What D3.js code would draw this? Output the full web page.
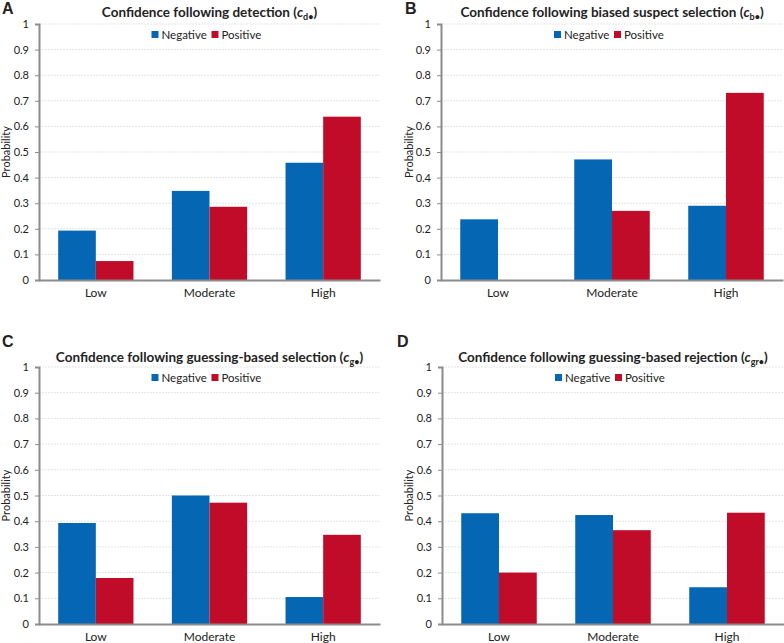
<!DOCTYPE html>
<html>
<head>
<meta charset="utf-8">
<script src="https://cdn.jsdelivr.net/npm/d3@7"></script>
<style>
  body { margin: 0; background: #fff; }
  svg text { font-family: Lato, "Open Sans", sans-serif; fill: #222; }
</style>
</head>
<body>
<div id="viz"></div>
<script>
let w = 784;
let h = 643;

// data
let categories = ["Low", "Moderate", "High"];
let seriesNames = ["Negative", "Positive"];
let yTicks = [0, 0.1, 0.2, 0.3, 0.4, 0.5, 0.6, 0.7, 0.8, 0.9, 1];

let negA = [0.193, 0.348, 0.458];
let posA = [0.074, 0.286, 0.638];
let negB = [0.237, 0.471, 0.290];
let posB = [0, 0.270, 0.731];
let negC = [0.393, 0.500, 0.105];
let posC = [0.179, 0.472, 0.347];
let negD = [0.431, 0.424, 0.143];
let posD = [0.200, 0.365, 0.433];

let colors = ["#0567b3", "#c00b29"];

let panels = [
  {letter: "A", title: "Confidence following detection (", sub: "d•", neg: negA, pos: posA,
   left: 39, right: 380, top: 24, bottom: 280, letterX: 2, letterY: 14, titleY: 17, labelX: 10},
  {letter: "B", title: "Confidence following biased suspect selection (", sub: "b•", neg: negB, pos: posB,
   left: 441, right: 783, top: 24, bottom: 280, letterX: 405, letterY: 14, titleY: 17, labelX: 413},
  {letter: "C", title: "Confidence following guessing-based selection (", sub: "g•", neg: negC, pos: posC,
   left: 39, right: 380, top: 367, bottom: 624, letterX: 2, letterY: 347, titleY: 362, labelX: 10},
  {letter: "D", title: "Confidence following guessing-based rejection (", sub: "gr•", neg: negD, pos: posD,
   left: 442, right: 784, top: 367, bottom: 624, letterX: 397, letterY: 347, titleY: 362, labelX: 413}
];

let viz = d3.select("#viz")
  .append("svg")
    .attr("width", w)
    .attr("height", h);

panels.forEach(function(p, pi){
  let g = viz.append("g").attr("class", "panel");

  let yScale = d3.scaleLinear().domain([0, 1]).range([p.bottom, p.top]);
  let xScale = d3.scaleBand().domain(categories).range([p.left, p.right]);
  let xInner = d3.scaleBand().domain(seriesNames)
    .range([0, xScale.bandwidth()]).paddingOuter(0.51).paddingInner(0);

  // gridlines
  g.append("g")
    .selectAll("line")
    .data(yTicks.filter(d => d > 0))
    .enter()
    .append("line")
      .attr("x1", p.left)
      .attr("x2", p.right)
      .attr("y1", d => yScale(d))
      .attr("y2", d => yScale(d))
      .attr("stroke", "#e4e4e4")
      .attr("stroke-width", 1)
      .attr("stroke-dasharray", "2,1");

  // bars
  let rows = categories.map((c, i) => ({cat: c, vals: [p.neg[i], p.pos[i]]}));
  let groups = g.selectAll(".catgroup")
    .data(rows)
    .enter()
    .append("g")
      .attr("class", "catgroup")
      .attr("transform", d => "translate(" + xScale(d.cat) + ",0)");

  groups.selectAll("rect")
    .data(d => d.vals.map((v, j) => ({name: seriesNames[j], value: v, j: j})))
    .enter()
    .append("rect")
      .attr("x", d => xInner(d.name))
      .attr("width", xInner.bandwidth())
      .attr("y", d => yScale(d.value))
      .attr("height", d => yScale(0) - yScale(d.value))
      .attr("fill", d => colors[d.j]);

  // y axis
  let yAxis = d3.axisLeft(yScale).tickValues(yTicks)
    .tickFormat(d => d3.format("")(+d.toFixed(1)))
    .tickSize(4).tickPadding(6);
  let yAxisGroup = g.append("g")
    .attr("transform", "translate(" + p.left + ",0)")
    .call(yAxis);
  yAxisGroup.select(".domain").attr("stroke", "#8c8c8c").attr("stroke-width", 2);
  yAxisGroup.selectAll(".tick line").attr("stroke", "#8c8c8c");
  yAxisGroup.selectAll(".tick text")
    .style("font-size", "11px")
    .style("font-family", "Lato, sans-serif")
    .attr("fill", "#222");

  // x axis
  let xAxis = d3.axisBottom(xScale).tickSize(0).tickPadding(8);
  let xAxisGroup = g.append("g")
    .attr("transform", "translate(0," + p.bottom + ")")
    .call(xAxis);
  xAxisGroup.select(".domain").attr("stroke", "#8c8c8c").attr("stroke-width", 2);
  xAxisGroup.selectAll(".tick text")
    .style("font-size", "12px")
    .style("font-family", "Lato, sans-serif")
    .attr("fill", "#222");

  // y label
  g.append("text")
    .attr("transform", "translate(" + p.labelX + "," + ((p.top + p.bottom) / 2) + ") rotate(-90)")
    .attr("text-anchor", "middle")
    .attr("font-size", "11px")
    .text("Probability");

  // panel letter
  g.append("text")
    .attr("x", p.letterX)
    .attr("y", p.letterY)
    .attr("font-size", "16px")
    .attr("font-weight", "bold")
    .style("font-family", "'Liberation Sans', Arial, sans-serif")
    .text(p.letter);

  // title
  let title = g.append("text")
    .attr("x", (p.left + p.right) / 2)
    .attr("y", p.titleY)
    .attr("text-anchor", "middle")
    .attr("font-size", "13.5px")
    .attr("font-weight", "bold");
  title.append("tspan").text(p.title);
  title.append("tspan").attr("font-style", "italic").text("c");
  title.append("tspan").attr("font-size", "9px").attr("dy", 3).text(p.sub);
  title.append("tspan").attr("dy", -3).text(")");

  // legend
  let legendX = (p.left + p.right) / 2 - 58;
  let legendY = p.top + 11;
  let legend = g.append("g").attr("transform", "translate(" + legendX + "," + legendY + ")");
  let items = legend.selectAll(".item")
    .data(seriesNames)
    .enter()
    .append("g")
      .attr("class", "item")
      .attr("transform", (d, i) => "translate(" + (i * 60) + ",0)");
  items.append("rect")
    .attr("x", 0).attr("y", -4)
    .attr("width", 7).attr("height", 7)
    .attr("fill", (d, i) => colors[i]);
  items.append("text")
    .attr("x", 10)
    .attr("y", 4)
    .attr("font-size", "11.5px")
    .text(d => d);
});
</script>
</body>
</html>
